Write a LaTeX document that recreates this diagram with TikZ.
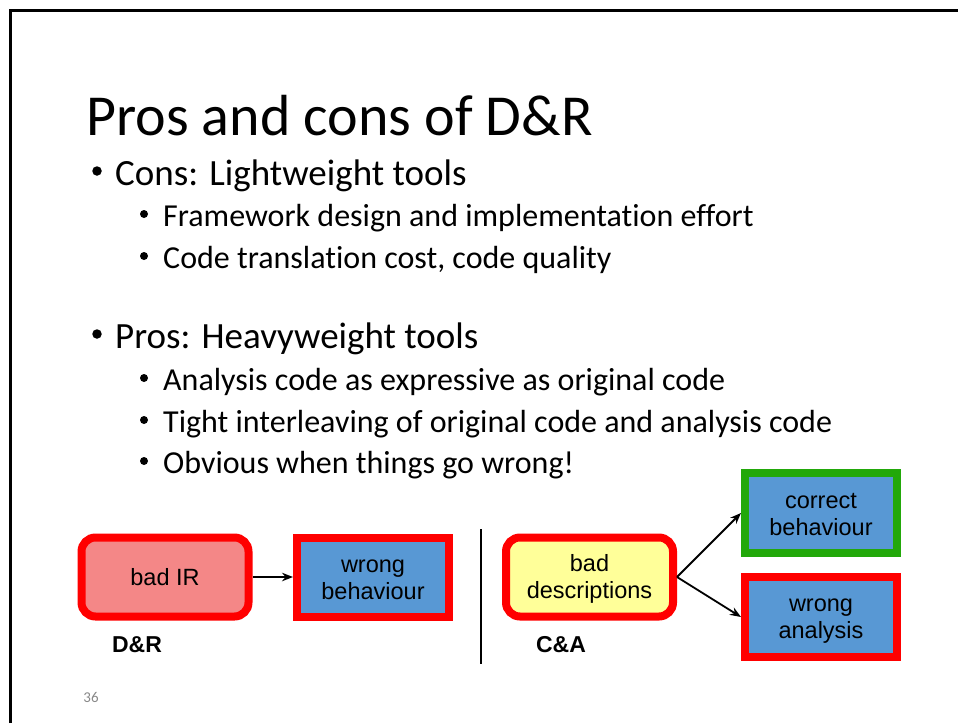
\documentclass[tikz,border=0pt]{standalone}
\usepackage{fontspec}
\setmainfont{Carlito}[Ligatures=NoCommon]
\newfontfamily\arial{Liberation Sans}
\usetikzlibrary{arrows.meta}
\definecolor{boxred}{HTML}{FF0000}
\definecolor{boxgreen}{HTML}{22A80A}
\definecolor{salmon}{HTML}{F48787}
\definecolor{skyblue}{HTML}{5898D4}
\definecolor{paleyellow}{HTML}{FFFF99}
\definecolor{pagegray}{HTML}{898989}
% struts that fix the top of the first line and the foot of the last line
\newcommand{\topstrut}{\rule{0pt}{20pt}}
\newcommand{\footstrut}{\rule[-3pt]{0pt}{3pt}}
\tikzset{
  titletext/.style={anchor=base west, inner sep=0pt, font=\fontsize{58}{62}\selectfont},
  lvlone/.style={anchor=base west, inner sep=0pt, font=\fontsize{37}{40}\selectfont},
  lvltwo/.style={anchor=base west, inner sep=0pt, font=\fontsize{32}{34}\selectfont},
  dotone/.style={circle, fill=black, inner sep=0pt, minimum size=9.5pt},
  dottwo/.style={circle, fill=black, inner sep=0pt, minimum size=8pt},
  box/.style={line width=8pt, inner sep=0pt, align=center,
    font=\arial\fontsize{23.5}{27}\selectfont},
  roundbox/.style={box, rounded corners=14pt},
  caption/.style={inner sep=0pt, font=\arial\bfseries\fontsize{23}{27}\selectfont},
  arr/.style={line width=1.8pt, -{Stealth[length=11pt,width=8.5pt]}},
}
\begin{document}
\begin{tikzpicture}[x=1pt,y=-1pt]
  \useasboundingbox (0,0) rectangle (958,723);
  % slide frame (top and left edges)
  \draw[line width=3pt] (10,723) -- (10,10) -- (958,10);

  % title and bullet list
  \node[titletext] (title) at (86,135) {Pros and cons of D\&R};

  \node[dotone] (b1) at (97,171) {};
  \node[lvlone] (cons) at (115,185) {Cons: Lightweight tools};
  \node[dottwo] (b11) at (144,214) {};
  \node[lvltwo] (c1) at (163,226) {Framework design and implementation effort};
  \node[dottwo] (b12) at (144,256) {};
  \node[lvltwo] (c2) at (163,268) {Code translation cost, code quality};

  \node[dotone] (b2) at (97,334) {};
  \node[lvlone] (pros) at (115,348) {Pros: Heavyweight tools};
  \node[dottwo] (b21) at (144,378) {};
  \node[lvltwo] (p1) at (163,390) {Analysis code as expressive as original code};
  \node[dottwo] (b22) at (144,420) {};
  \node[lvltwo] (p2) at (163,432) {Tight interleaving of original code and analysis code};
  \node[dottwo] (b23) at (144,461) {};
  \node[lvltwo] (p3) at (163,473) {Obvious when things go wrong!};

  % D&R side
  \node[roundbox, draw=boxred, fill=salmon, minimum width=167pt, minimum height=79pt]
    (badir) at (165,577) {\topstrut bad IR\footstrut};
  \node[box, draw=boxred, fill=skyblue, minimum width=152pt, minimum height=79pt]
    (wrongbeh) at (373,577) {\topstrut wrong\\behaviour\footstrut};
  \draw[arr] (badir) -- (wrongbeh);
  \node[caption] (dr) at (137,645) {D\&R};

  % separator
  \coordinate (septop) at (481,529);
  \coordinate (sepbot) at (481,664);
  \draw[line width=2pt] (septop) -- (sepbot);

  % C&A side
  \node[roundbox, draw=boxred, fill=paleyellow, minimum width=167pt, minimum height=79pt]
    (baddesc) at (589.5,577) {\topstrut bad\\descriptions\footstrut};
  \node[box, draw=boxgreen, fill=skyblue, minimum width=152pt, minimum height=80pt]
    (correct) at (821,513) {\topstrut correct\\behaviour\footstrut};
  \node[box, draw=boxred, fill=skyblue, minimum width=152pt, minimum height=80pt]
    (analysis) at (821,617) {\topstrut wrong\\analysis\footstrut};
  \draw[arr] (baddesc.east) -- (correct.west);
  \draw[arr] (baddesc.east) -- (analysis.west);
  \node[caption] (ca) at (561,645) {C\&A};

  % page number
  \node[inner sep=0pt, text=pagegray, font=\fontsize{15}{18}\selectfont] (pageno) at (91,697) {36};
\end{tikzpicture}
\end{document}
